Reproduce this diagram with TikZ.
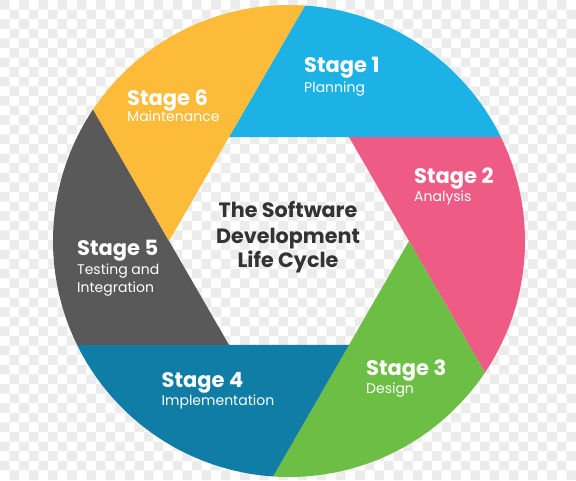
\documentclass[tikz,border=0pt]{standalone}
\usepackage{fontspec}
\setmainfont{Poppins}
\definecolor{cblue}{RGB}{28,178,230}
\definecolor{cpink}{RGB}{238,92,134}
\definecolor{cgreen}{RGB}{109,190,69}
\definecolor{cteal}{RGB}{15,125,165}
\definecolor{cgray}{RGB}{89,89,89}
\definecolor{cyellow}{RGB}{252,187,57}
\definecolor{checker}{RGB}{236,236,236}
\definecolor{ctext}{RGB}{51,51,51}
\tikzset{
  stagetitle/.style={anchor=base west, inner sep=0pt, text=white, font=\fontsize{21}{25}\selectfont\bfseries},
  stagesub/.style={anchor=base west, inner sep=0pt, text=white, font=\fontsize{14}{17}\selectfont},
  centertext/.style={anchor=base, inner sep=0pt, text=ctext, font=\fontsize{20.7}{24}\selectfont\bfseries},
}
\newcommand{\segment}[2]{%
  \fill[#2] (#1:120) -- (#1-33.88:236) arc[start angle=#1-33.88, end angle=#1-93.88, radius=236] -- (#1-60:120) -- cycle;}
\begin{document}
\begin{tikzpicture}[x=1pt,y=1pt]
\useasboundingbox (0,0) rectangle (576,480);
\fill[white] (0,0) rectangle (576,480);
\fill[checker] \foreach \j in {0,...,49} { \foreach \i in {0,2,...,58} { ({(\i+mod(\j,2))*9.6},{480-(\j+1)*9.6}) rectangle ++(9.6,9.6) } };
\begin{scope}[shift={(289,239)}]
  \segment{120}{cblue}
  \segment{60}{cpink}
  \segment{0}{cgreen}
  \segment{-60}{cteal}
  \segment{-120}{cgray}
  \segment{180}{cyellow}
\end{scope}
% labels (image y -> 480 - y)
\node[stagetitle] (s1) at (304,407) {Stage 1};
\node[stagesub] (s1b) at (304,387) {Planning};
\node[stagetitle] (s2) at (414,296) {Stage 2};
\node[stagesub] (s2b) at (414,278) {Analysis};
\node[stagetitle] (s3) at (366,105) {Stage 3};
\node[stagesub] (s3b) at (366,87) {Design};
\node[stagetitle] (s4) at (161.5,92.5) {Stage 4};
\node[stagesub] (s4b) at (161.5,74.5) {Implementation};
\node[stagetitle] (s5) at (77,224) {Stage 5};
\node[stagesub] (s5b) at (77,205) {Testing and};
\node[stagesub] (s5c) at (77,187.5) {Integration};
\node[stagetitle] (s6) at (127,374) {Stage 6};
\node[stagesub] (s6b) at (127,358) {Maintenance};
\node[centertext] (c1) at (288,262.7) {The Software};
\node[centertext] (c2) at (288,236.7) {Development};
\node[centertext] (c3) at (288,212) {Life Cycle};
\end{tikzpicture}
\end{document}
